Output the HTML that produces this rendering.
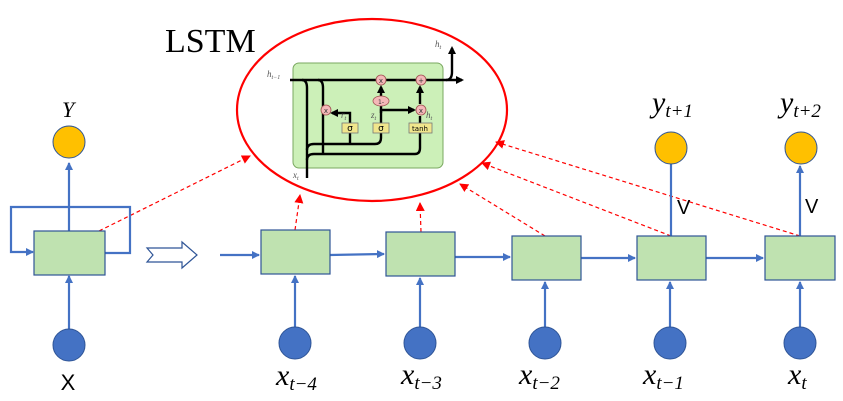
<!DOCTYPE html>
<html><head><meta charset="utf-8"><style>
html,body{margin:0;padding:0;background:#fff;}
svg{display:block;}
</style></head><body>
<svg width="843" height="401" viewBox="0 0 843 401" xmlns="http://www.w3.org/2000/svg">
<defs>
<marker id="ab" markerWidth="8" markerHeight="8" refX="7" refY="4" orient="auto" markerUnits="userSpaceOnUse"><path d="M0,0 L8,4 L0,8 z" fill="#4472c4"/></marker>
<marker id="ar" markerWidth="9" markerHeight="9" refX="8" refY="4.5" orient="auto" markerUnits="userSpaceOnUse"><path d="M0,0 L9,4.5 L0,9 z" fill="#ff0000"/></marker>
<marker id="ak" markerWidth="8" markerHeight="8" refX="6" refY="4" orient="auto" markerUnits="userSpaceOnUse"><path d="M0,0 L8,4 L0,8 z" fill="#000"/></marker>
</defs>

<text x="165" y="52" font-family="Liberation Serif, serif" font-size="34">LSTM</text>
<ellipse cx="372" cy="110" rx="135" ry="91" fill="none" stroke="#ff0000" stroke-width="2.2"/>

<!-- LSTM inner -->
<rect x="293" y="63" width="150" height="105" rx="6" fill="#ccf0b8" stroke="#7aa860" stroke-width="1"/>
<g stroke="#000" stroke-width="2.4" fill="none">
<line x1="290" y1="80" x2="462" y2="80" marker-end="url(#ak)"/>
<path d="M446,80 Q452,80 452,72 L452,48" marker-end="url(#ak)"/>
<path d="M302,80 Q307,80 307,88 L307,178"/>
<path d="M318,80 Q323,80 323,88 L323,154"/>
<path d="M307,150 Q307,144 314,144 L375,144 Q381,144 381,138 L381,133"/>
<path d="M350,144 L350,133"/>
<path d="M307,160 Q307,154 314,154 L415,154 Q420,154 420,148 L420,133"/>
<path d="M350,123 L350,113 L332,113" marker-end="url(#ak)"/>
<path d="M381,123 L381,106"/>
<path d="M381,96 L381,87" marker-end="url(#ak)"/>
<path d="M381,113 L381,110 L414,110" marker-end="url(#ak)"/>
<path d="M420,123 L420,116"/>
<path d="M420,104 L420,87" marker-end="url(#ak)"/>
</g>
<g stroke="#a05050" stroke-width="0.8" fill="#f4b8b8">
<circle cx="381" cy="80" r="5"/><circle cx="421" cy="80" r="5"/>
<circle cx="326" cy="110" r="5"/><circle cx="421" cy="110" r="5"/>
<ellipse cx="381" cy="101" rx="8" ry="5"/>
</g>
<g font-family="DejaVu Sans, sans-serif" font-size="7" text-anchor="middle" fill="#333">
<text x="381" y="83">x</text><text x="421" y="83">+</text><text x="326" y="113">x</text><text x="421" y="113">x</text><text x="381" y="104" font-size="6">1-</text>
</g>
<g stroke="#777" stroke-width="0.8" fill="#f0e68c">
<rect x="342" y="123" width="16" height="10"/><rect x="373" y="123" width="16" height="10"/><rect x="409" y="123" width="23" height="10"/>
</g>
<g font-family="DejaVu Sans, sans-serif" font-size="9" text-anchor="middle" fill="#000">
<text x="350" y="131">σ</text><text x="381" y="131">σ</text><text x="420" y="131" font-size="7">tanh</text>
</g>
<g font-family="Liberation Serif, serif" font-style="italic" font-size="9" fill="#555">
<text x="267" y="77">h<tspan font-size="6" dy="2">t−1</tspan></text>
<text x="435" y="47">h<tspan font-size="6" dy="2">t</tspan></text>
<text x="341" y="118">r<tspan font-size="6" dy="2">t</tspan></text>
<text x="371" y="118">z<tspan font-size="6" dy="2">t</tspan></text>
<text x="426" y="118">h<tspan font-size="6" dy="2">t</tspan></text>
<text x="293" y="178">x<tspan font-size="6" dy="2">t</tspan></text>
</g>

<!-- red dashed -->
<g stroke="#ff0000" stroke-width="1.2" stroke-dasharray="4,3" fill="none" marker-end="url(#ar)">
<line x1="99" y1="231" x2="250" y2="156"/>
<line x1="295" y1="230" x2="300" y2="195"/>
<line x1="421" y1="232" x2="420" y2="203"/>
<line x1="545" y1="236" x2="460" y2="184"/>
<line x1="671" y1="236" x2="482" y2="163"/>
<line x1="800" y1="236" x2="496" y2="142"/>
</g>

<!-- left folded -->
<g stroke="#4472c4" stroke-width="2.2" fill="none">
<line x1="69" y1="231" x2="69" y2="163" marker-end="url(#ab)"/>
<path d="M105,253 L130,253 L130,207 L11,207 L11,252 L33,252" marker-end="url(#ab)"/>
<line x1="69" y1="329" x2="69" y2="276" marker-end="url(#ab)"/>
</g>
<rect x="34" y="231" width="71" height="44" fill="#bfe2b0" stroke="#2f5597" stroke-width="1.2"/>
<circle cx="69" cy="142" r="16" fill="#ffc000" stroke="#2f5597" stroke-width="1"/>
<circle cx="69" cy="345" r="16" fill="#4472c4" stroke="#2f5597" stroke-width="1"/>
<text x="62" y="117" font-family="Liberation Serif, serif" font-style="italic" font-size="22">Y</text>
<text x="68" y="390" text-anchor="middle" font-family="Liberation Sans, sans-serif" font-size="22">X</text>

<path d="M147,248 L182,248 L182,242 L197,255 L182,268 L182,262 L147,262 L153,255 z" fill="#fff" stroke="#2f5597" stroke-width="1.2"/>

<!-- unrolled -->
<g stroke="#4472c4" stroke-width="2.2" fill="none">
<line x1="220" y1="255" x2="259" y2="255" marker-end="url(#ab)"/>
<line x1="330" y1="255" x2="384" y2="254" marker-end="url(#ab)"/>
<line x1="455" y1="257" x2="510" y2="257" marker-end="url(#ab)"/>
<line x1="581" y1="258" x2="635" y2="258" marker-end="url(#ab)"/>
<line x1="706" y1="258" x2="763" y2="258" marker-end="url(#ab)"/>
<line x1="295" y1="327" x2="295" y2="276" marker-end="url(#ab)"/>
<line x1="420" y1="327" x2="420" y2="278" marker-end="url(#ab)"/>
<line x1="545" y1="327" x2="545" y2="282" marker-end="url(#ab)"/>
<line x1="670" y1="327" x2="670" y2="282" marker-end="url(#ab)"/>
<line x1="800" y1="327" x2="800" y2="282" marker-end="url(#ab)"/>
<line x1="671" y1="236" x2="671" y2="164"/>
<line x1="800" y1="236" x2="800" y2="166" marker-end="url(#ab)"/>
</g>
<g fill="#bfe2b0" stroke="#2f5597" stroke-width="1.2">
<rect x="261" y="230" width="69" height="44"/>
<rect x="386" y="232" width="69" height="44"/>
<rect x="512" y="236" width="69" height="44"/>
<rect x="637" y="236" width="69" height="44"/>
<rect x="765" y="236" width="70" height="44"/>
</g>
<g fill="#4472c4" stroke="#2f5597" stroke-width="1">
<circle cx="295" cy="343" r="16"/><circle cx="420" cy="343" r="16"/><circle cx="545" cy="343" r="16"/><circle cx="670" cy="343" r="16"/><circle cx="800" cy="343" r="16"/>
</g>
<g fill="#ffc000" stroke="#2f5597" stroke-width="1">
<circle cx="671" cy="148" r="16"/><circle cx="801" cy="148" r="16"/>
</g>
<g font-family="Liberation Sans, sans-serif" font-size="20">
<text x="677" y="214">V</text><text x="805" y="213">V</text>
</g>
<g font-family="Liberation Serif, serif" font-style="italic" font-size="30">
<text x="276" y="385">x<tspan font-size="19" dy="5">t−4</tspan></text>
<text x="401" y="384">x<tspan font-size="19" dy="5">t−3</tspan></text>
<text x="519" y="384">x<tspan font-size="19" dy="5">t−2</tspan></text>
<text x="643" y="384">x<tspan font-size="19" dy="5">t−1</tspan></text>
<text x="788" y="384">x<tspan font-size="19" dy="5">t</tspan></text>
<text x="652" y="112">y<tspan font-size="19" dy="5">t+1</tspan></text>
<text x="780" y="112">y<tspan font-size="19" dy="5">t+2</tspan></text>
</g>
</svg>
</body></html>
